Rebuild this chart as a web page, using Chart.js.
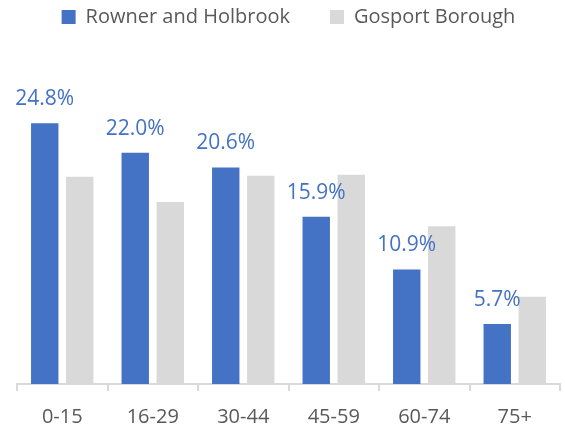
<!DOCTYPE html>
<html>
<head>
<meta charset="utf-8">
<script src="https://cdn.jsdelivr.net/npm/chart.js@4"></script>
<style>
  body { margin: 0; background: #fff; }
  #wrap { width: 565px; height: 430px; }
</style>
</head>
<body>
<div id="wrap"><canvas id="ageChart"></canvas></div>
<script>
const ageBands = ['0-15', '16-29', '30-44', '45-59', '60-74', '75+'];
const rownerHolbrook = [24.8, 22.0, 20.6, 15.9, 10.9, 5.7];
const gosportBorough = [19.7, 17.3, 19.8, 19.9, 15.0, 8.3];

const blue = '#4472C4';
const grey = '#D9D9D9';
const textGrey = '#595959';
const fontName = "'Open Sans', sans-serif";

// percentage labels above the blue bars only
const barLabels = {
    id: 'barLabels',
    afterDatasetsDraw(chart) {
        const ctx = chart.ctx;
        const meta = chart.getDatasetMeta(0);
        ctx.save();
        ctx.font = '21px ' + fontName;
        ctx.fillStyle = blue;
        ctx.textAlign = 'center';
        ctx.textBaseline = 'alphabetic';
        meta.data.forEach((bar, i) => {
            ctx.fillText(rownerHolbrook[i].toFixed(1) + '%', bar.x, bar.y - 18);
        });
        ctx.restore();
    }
};

const ctx = document.getElementById('ageChart').getContext('2d');

new Chart(ctx, {
    type: 'bar',
    data: {
        labels: ageBands,
        datasets: [{
            label: 'Rowner and Holbrook',
            data: rownerHolbrook,
            backgroundColor: blue,
            barPercentage: 0.783,
            categoryPercentage: 0.7735
        }, {
            label: 'Gosport Borough',
            data: gosportBorough,
            backgroundColor: grey,
            barPercentage: 0.783,
            categoryPercentage: 0.7735
        }]
    },
    options: {
        responsive: true,
        maintainAspectRatio: false,
        animation: false,
        layout: {
            padding: { left: 17, right: 5, top: -33, bottom: 0 }
        },
        plugins: {
            legend: {
                position: 'top',
                labels: {
                    boxWidth: 14,
                    boxHeight: 14,
                    padding: 40,
                    color: textGrey,
                    font: { family: fontName, size: 20 }
                }
            },
            tooltip: { enabled: false }
        },
        scales: {
            x: {
                afterFit(scale) {
                    scale.height = 46;
                },
                grid: {
                    drawOnChartArea: false,
                    drawTicks: true,
                    tickLength: 7,
                    color: grey,
                    lineWidth: 2
                },
                border: { color: grey, width: 2 },
                ticks: {
                    color: textGrey,
                    padding: 16,
                    font: { family: fontName, size: 20, lineHeight: 1 }
                }
            },
            y: {
                display: false,
                min: 0,
                max: 33
            }
        }
    },
    plugins: [barLabels]
});
</script>
</body>
</html>
